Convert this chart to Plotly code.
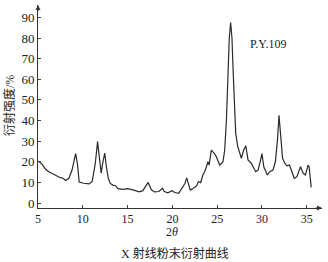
import plotly.graph_objects as go

two_theta = [5.0, 5.2, 5.5, 5.8, 6.2, 6.6, 7.0, 7.5, 7.8, 8.1, 8.45, 8.8, 9.0, 9.2, 9.4, 9.6,
             10.1, 10.7, 11.05, 11.4, 11.65, 11.9, 12.05, 12.25, 12.45, 12.65, 12.85, 13.07,
             13.35, 13.66, 13.9, 14.5, 15.0, 15.6, 16.3, 16.7, 17.0, 17.3, 17.65, 18.0, 18.5,
             18.9, 19.1, 19.5, 19.95, 20.25, 20.7, 21.07, 21.4, 21.6, 21.8, 22.0, 22.3, 22.7,
             22.9, 23.15, 23.4, 23.6, 23.8, 23.97, 24.1, 24.35, 24.5, 24.7, 24.9, 25.28, 25.65,
             25.84, 26.03, 26.2, 26.35, 26.5, 26.65, 26.8, 26.95, 27.07, 27.3, 27.7, 27.96,
             28.2, 28.44, 28.8, 29.3, 29.56, 29.8, 30.0, 30.2, 30.6, 30.87, 31.23, 31.5, 31.73,
             31.9, 32.1, 32.3, 32.54, 32.8, 33.07, 33.3, 33.6, 33.9, 34.3, 34.6, 34.85, 35.15,
             35.26, 35.5]
intensity = [20.2, 19.8, 18.6, 16.6, 15.2, 14.2, 13.3, 12.3, 12.0, 10.9, 12.0, 16.0, 20.0, 24.0,
             19.0, 10.2, 9.6, 9.3, 10.5, 19.4, 29.8, 19.4, 14.5, 20.0, 24.2, 17.0, 12.0, 9.5,
             8.7, 8.4, 7.0, 6.6, 7.0, 6.4, 5.4, 6.0, 7.9, 10.0, 6.4, 5.4, 5.6, 7.2, 5.6, 5.0,
             6.0, 5.1, 4.7, 7.1, 9.5, 12.2, 8.7, 6.3, 7.1, 8.3, 10.3, 9.9, 13.6, 15.2, 17.6,
             20.0, 18.4, 25.7, 24.9, 24.0, 22.5, 18.4, 20.0, 25.7, 40.0, 62.0, 80.0, 87.5,
             80.0, 62.0, 45.0, 33.8, 27.3, 21.7, 25.7, 27.7, 20.9, 19.3, 15.2, 16.0, 20.0,
             24.0, 17.6, 13.6, 15.2, 16.0, 20.0, 30.6, 42.5, 30.6, 21.7, 19.3, 18.0, 18.4,
             15.2, 12.0, 12.8, 17.6, 14.4, 13.6, 18.4, 17.6, 7.6]

x_ticks = [5, 10, 15, 20, 25, 30, 35]
y_ticks = [0, 10, 20, 30, 40, 50, 60, 70, 80, 90]

SERIF = "Liberation Serif, Noto Sans CJK SC, serif"

# plot area in pixels: left 38, right 322, top 5, bottom 208
def px_x(p):
    return (p - 38) / 284

def px_y(p):
    return (208 - p) / 203

fig = go.Figure()
fig.add_trace(go.Scatter(x=two_theta, y=intensity, mode="lines",
                         line=dict(color="#2a2a2a", width=1.2), showlegend=False))

fig.update_layout(
    width=328, height=262,
    margin=dict(l=38, r=6, t=5, b=54),
    paper_bgcolor="white", plot_bgcolor="white",
    font=dict(family=SERIF, size=13, color="#222"),
    xaxis=dict(range=[5, 36.7], tickvals=x_ticks, ticks="inside", ticklen=3,
               showline=True, linecolor="#333", linewidth=1, showgrid=False,
               zeroline=False, tickfont=dict(size=12)),
    yaxis=dict(range=[-2.4, 96], tickvals=y_ticks, ticks="inside", ticklen=3,
               showline=True, linecolor="#333", linewidth=1, showgrid=False,
               zeroline=False, tickfont=dict(size=13)),
)
fig.add_annotation(x=0, y=1, xref="paper", yref="paper", ax=0, ay=8, showarrow=True,
                   arrowhead=2, arrowsize=1, arrowwidth=1, arrowcolor="#333", text="")
fig.add_annotation(x=1, y=0, xref="paper", yref="paper", ax=-8, ay=0, showarrow=True,
                   arrowhead=2, arrowsize=1, arrowwidth=1, arrowcolor="#333", text="")
fig.add_annotation(x=30.7, y=77, xref="x", yref="y", text="P.Y.109", showarrow=False,
                   font=dict(size=12, family=SERIF))
fig.add_annotation(x=px_x(10), y=px_y(106), xref="paper", yref="paper",
                   xanchor="center", yanchor="middle", text="衍射强度/%", textangle=-90,
                   showarrow=False, font=dict(size=12))
fig.add_annotation(x=px_x(172), y=px_y(232), xref="paper", yref="paper",
                   xanchor="center", yanchor="middle",
                   text="2<i>θ</i>", showarrow=False, font=dict(size=12))
fig.add_annotation(x=px_x(175), y=px_y(253), xref="paper", yref="paper",
                   xanchor="center", yanchor="middle",
                   text="X 射线粉末衍射曲线", showarrow=False, font=dict(size=12))

fig.write_html("out.html")
